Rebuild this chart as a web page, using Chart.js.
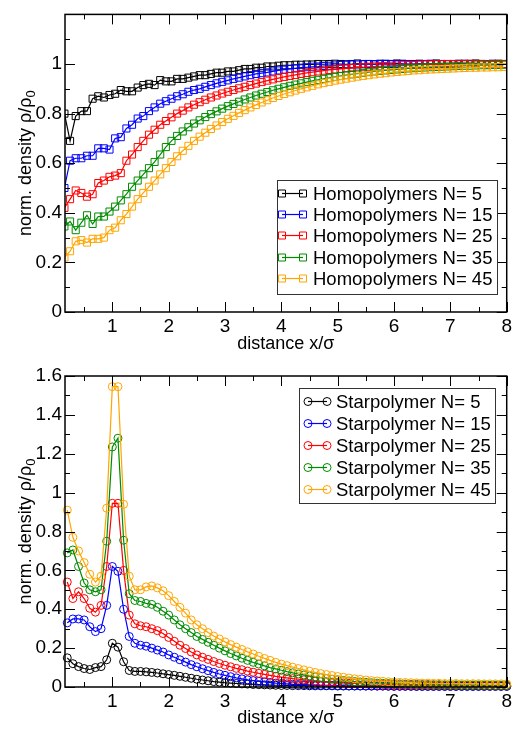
<!DOCTYPE html>
<html>
<head>
<meta charset="utf-8">
<script src="https://cdn.jsdelivr.net/npm/chart.js@4.4.1/dist/chart.umd.min.js"></script>
<style>
  body { margin: 0; background: #fff; }
  #wrap { position: relative; width: 515px; height: 731px; }
  canvas { position: absolute; left: 0; }
  #homoChart { top: 0; }
  #starChart { top: 355px; }
</style>
</head>
<body>
<div id="wrap">
  <canvas id="homoChart" width="515" height="355"></canvas>
  <canvas id="starChart" width="515" height="376"></canvas>
</div>
<script>
// distances (in units of sigma) for the two profile sets
const homoDistance = [
  0.15, 0.25, 0.35, 0.45, 0.55, 0.65, 0.75, 0.85, 0.95, 1.05,
  1.15, 1.25, 1.35, 1.45, 1.55, 1.65, 1.75, 1.85, 1.95, 2.05,
  2.15, 2.25, 2.35, 2.45, 2.55, 2.65, 2.75, 2.85, 2.95, 3.05,
  3.15, 3.25, 3.35, 3.45, 3.55, 3.65, 3.75, 3.85, 3.95, 4.05,
  4.15, 4.25, 4.35, 4.45, 4.55, 4.65, 4.75, 4.85, 4.95, 5.05,
  5.15, 5.25, 5.35, 5.45, 5.55, 5.65, 5.75, 5.85, 5.95, 6.05,
  6.15, 6.25, 6.35, 6.45, 6.55, 6.65, 6.75, 6.85, 6.95, 7.05,
  7.15, 7.25, 7.35, 7.45, 7.55, 7.65, 7.75, 7.85, 7.95
];
const starDistance = [
  0.2, 0.3, 0.4, 0.5, 0.6, 0.7, 0.8, 0.9, 1.0, 1.1,
  1.2, 1.3, 1.4, 1.5, 1.6, 1.7, 1.8, 1.9, 2.0, 2.1,
  2.2, 2.3, 2.4, 2.5, 2.6, 2.7, 2.8, 2.9, 3.0, 3.1,
  3.2, 3.3, 3.4, 3.5, 3.6, 3.7, 3.8, 3.9, 4.0, 4.1,
  4.2, 4.3, 4.4, 4.5, 4.6, 4.7, 4.8, 4.9, 5.0, 5.1,
  5.2, 5.3, 5.4, 5.5, 5.6, 5.7, 5.8, 5.9, 6.0, 6.1,
  6.2, 6.3, 6.4, 6.5, 6.6, 6.7, 6.8, 6.9, 7.0, 7.1,
  7.2, 7.3, 7.4, 7.5, 7.6, 7.7, 7.8, 7.9, 8.0
];

// homopolymer density profiles
const homoN5 = [
  0.80, 0.69, 0.79, 0.81, 0.81, 0.86, 0.87, 0.865, 0.875, 0.88,
  0.895, 0.89, 0.89, 0.905, 0.915, 0.92, 0.915, 0.935, 0.93, 0.93,
  0.94, 0.94, 0.945, 0.95, 0.955, 0.955, 0.96, 0.965, 0.965, 0.97,
  0.97, 0.975, 0.98, 0.98, 0.985, 0.985, 0.99, 0.99, 0.993, 0.995,
  0.995, 0.997, 0.997, 0.998, 0.998, 1.0, 0.999, 1.0, 1.001, 1.0,
  0.999, 1.0, 1.002, 1.0, 1.0, 0.999, 1.001, 1.0, 1.0, 1.002,
  1.0, 0.999, 1.0, 1.001, 1.0, 1.0, 1.002, 1.0, 0.999, 1.0,
  1.001, 1.0, 1.0, 1.002, 1.0, 0.999, 1.0, 1.001, 1.0
];
const homoN15 = [
  0.50, 0.61, 0.62, 0.62, 0.63, 0.63, 0.66, 0.66, 0.655, 0.70,
  0.705, 0.74, 0.755, 0.78, 0.79, 0.81, 0.825, 0.84, 0.85, 0.86,
  0.87, 0.878, 0.888, 0.895, 0.90, 0.908, 0.915, 0.922, 0.928, 0.934,
  0.94, 0.945, 0.95, 0.955, 0.96, 0.963, 0.966, 0.97, 0.974, 0.977,
  0.98, 0.982, 0.985, 0.987, 0.989, 0.99, 0.992, 0.993, 0.994, 0.996,
  0.997, 0.998, 0.998, 0.999, 1.0, 0.999, 1.0, 1.001, 1.0, 1.0,
  1.001, 1.0, 0.999, 1.0, 1.0, 1.001, 1.0, 1.0, 1.0, 0.999,
  1.0, 1.001, 1.0, 1.0, 1.0, 1.0, 1.001, 1.0, 1.0
];
const homoN25 = [
  0.42, 0.455, 0.49, 0.48, 0.465, 0.475, 0.52, 0.53, 0.545, 0.55,
  0.56, 0.61, 0.635, 0.665, 0.69, 0.715, 0.735, 0.755, 0.77, 0.785,
  0.80, 0.812, 0.825, 0.836, 0.846, 0.856, 0.865, 0.873, 0.881, 0.888,
  0.895, 0.902, 0.908, 0.915, 0.921, 0.927, 0.933, 0.938, 0.943, 0.948,
  0.952, 0.956, 0.96, 0.964, 0.967, 0.97, 0.973, 0.976, 0.978, 0.98,
  0.982, 0.984, 0.986, 0.987, 0.989, 0.99, 0.991, 0.992, 0.993, 0.994,
  0.995, 0.996, 0.996, 0.997, 0.998, 0.998, 0.999, 0.999, 1.0, 1.0,
  0.999, 1.0, 1.001, 1.0, 1.0, 0.999, 1.0, 1.0, 1.0
];
const homoN35 = [
  0.345, 0.365, 0.33, 0.36, 0.39, 0.355, 0.385, 0.385, 0.405, 0.425,
  0.45, 0.475, 0.505, 0.53, 0.555, 0.58, 0.605, 0.635, 0.665, 0.69,
  0.71, 0.728, 0.745, 0.76, 0.773, 0.786, 0.798, 0.809, 0.82, 0.83,
  0.839, 0.848, 0.857, 0.865, 0.873, 0.88, 0.887, 0.894, 0.9, 0.906,
  0.912, 0.917, 0.922, 0.927, 0.932, 0.936, 0.94, 0.944, 0.948, 0.952,
  0.955, 0.958, 0.961, 0.964, 0.967, 0.97, 0.972, 0.974, 0.976, 0.978,
  0.98, 0.982, 0.983, 0.985, 0.986, 0.987, 0.988, 0.989, 0.99, 0.991,
  0.992, 0.993, 0.993, 0.994, 0.995, 0.995, 0.996, 0.996, 0.997
];
const homoN45 = [
  0.22, 0.245, 0.285, 0.29, 0.28, 0.295, 0.295, 0.30, 0.33, 0.34,
  0.37, 0.395, 0.425, 0.455, 0.48, 0.505, 0.53, 0.555, 0.58, 0.605,
  0.628, 0.65, 0.67, 0.69, 0.707, 0.723, 0.738, 0.752, 0.766, 0.779,
  0.791, 0.803, 0.814, 0.825, 0.835, 0.845, 0.854, 0.863, 0.871, 0.879,
  0.886, 0.893, 0.9, 0.906, 0.912, 0.918, 0.923, 0.928, 0.933, 0.937,
  0.941, 0.945, 0.949, 0.952, 0.955, 0.958, 0.961, 0.963, 0.966, 0.968,
  0.97, 0.972, 0.974, 0.975, 0.977, 0.978, 0.979, 0.98, 0.981, 0.982,
  0.983, 0.984, 0.985, 0.985, 0.986, 0.986, 0.987, 0.987, 0.988
];

// star polymer density profiles
const starN5 = [
  0.15, 0.12, 0.105, 0.095, 0.09, 0.10, 0.105, 0.14, 0.225, 0.205,
  0.13, 0.085, 0.08, 0.08, 0.078, 0.075, 0.072, 0.068, 0.064, 0.06,
  0.055, 0.05, 0.045, 0.04, 0.036, 0.032, 0.028, 0.025, 0.022, 0.02,
  0.018, 0.016, 0.015, 0.013, 0.012, 0.011, 0.01, 0.009, 0.008, 0.008,
  0.007, 0.007, 0.007, 0.006, 0.006, 0.006, 0.006, 0.006, 0.005, 0.005,
  0.005, 0.005, 0.005, 0.005, 0.005, 0.005, 0.005, 0.004, 0.004, 0.004,
  0.004, 0.004, 0.004, 0.004, 0.004, 0.004, 0.004, 0.004, 0.004, 0.004,
  0.004, 0.004, 0.004, 0.004, 0.004, 0.004, 0.004, 0.004, 0.004
];
const starN15 = [
  0.33, 0.35, 0.35, 0.345, 0.31, 0.285, 0.30, 0.42, 0.62, 0.595,
  0.40, 0.26, 0.225, 0.215, 0.21, 0.20, 0.19, 0.18, 0.165, 0.153,
  0.14, 0.128, 0.115, 0.104, 0.094, 0.084, 0.075, 0.067, 0.06, 0.053,
  0.047, 0.042, 0.037, 0.033, 0.029, 0.026, 0.023, 0.02, 0.018, 0.016,
  0.014, 0.013, 0.012, 0.011, 0.01, 0.009, 0.008, 0.008, 0.007, 0.007,
  0.006, 0.006, 0.006, 0.005, 0.005, 0.005, 0.005, 0.005, 0.004, 0.004,
  0.004, 0.004, 0.003, 0.003, 0.003, 0.003, 0.003, 0.003, 0.003, 0.003,
  0.003, 0.003, 0.003, 0.003, 0.003, 0.003, 0.003, 0.003, 0.003
];
const starN25 = [
  0.54, 0.455, 0.49, 0.455, 0.405, 0.385, 0.42, 0.62, 0.945, 0.945,
  0.60, 0.37, 0.325, 0.315, 0.31, 0.30, 0.29, 0.275, 0.255, 0.235,
  0.215, 0.198, 0.18, 0.165, 0.153, 0.142, 0.131, 0.121, 0.112, 0.104,
  0.096, 0.089, 0.082, 0.076, 0.07, 0.065, 0.06, 0.055, 0.051, 0.047,
  0.043, 0.04, 0.037, 0.034, 0.031, 0.029, 0.027, 0.025, 0.023, 0.021,
  0.019, 0.018, 0.017, 0.016, 0.015, 0.014, 0.013, 0.012, 0.012, 0.011,
  0.011, 0.01, 0.01, 0.01, 0.009, 0.009, 0.009, 0.009, 0.008, 0.008,
  0.008, 0.008, 0.008, 0.008, 0.007, 0.007, 0.007, 0.007, 0.007
];
const starN35 = [
  0.69, 0.705, 0.62, 0.535, 0.50, 0.49, 0.50, 0.75, 1.235, 1.28,
  0.755, 0.48, 0.445, 0.44, 0.43, 0.425, 0.41, 0.39, 0.37, 0.345,
  0.32, 0.30, 0.28, 0.26, 0.245, 0.23, 0.215, 0.20, 0.186, 0.172,
  0.16, 0.148, 0.137, 0.127, 0.118, 0.109, 0.10, 0.093, 0.086, 0.079,
  0.073, 0.067, 0.062, 0.057, 0.052, 0.048, 0.044, 0.04, 0.037, 0.034,
  0.031, 0.028, 0.026, 0.024, 0.022, 0.02, 0.019, 0.018, 0.017, 0.016,
  0.015, 0.014, 0.014, 0.013, 0.013, 0.012, 0.012, 0.011, 0.011, 0.011,
  0.01, 0.01, 0.01, 0.01, 0.01, 0.009, 0.009, 0.009, 0.009
];
const starN45 = [
  0.91, 0.77, 0.70, 0.64, 0.58, 0.54, 0.57, 0.92, 1.545, 1.545,
  0.94, 0.57, 0.50, 0.50, 0.515, 0.52, 0.51, 0.495, 0.47, 0.44,
  0.41, 0.38, 0.345, 0.32, 0.30, 0.28, 0.262, 0.247, 0.232, 0.218,
  0.205, 0.193, 0.181, 0.17, 0.158, 0.147, 0.137, 0.127, 0.118, 0.11,
  0.102, 0.095, 0.088, 0.081, 0.075, 0.069, 0.064, 0.059, 0.054, 0.05,
  0.046, 0.042, 0.039, 0.036, 0.033, 0.031, 0.029, 0.027, 0.025, 0.024,
  0.023, 0.022, 0.021, 0.02, 0.02, 0.019, 0.019, 0.018, 0.018, 0.018,
  0.017, 0.017, 0.017, 0.017, 0.016, 0.016, 0.016, 0.016, 0.016
];

const seriesLabels = ['N= 5', 'N= 15', 'N= 25', 'N= 35', 'N= 45'];
const seriesColors = ['#000000', '#0000ff', '#ff0000', '#008c00', '#ffa500'];

// axis ticks
const xTickValues = [1, 2, 3, 4, 5, 6, 7, 8];
const xMinorTicks = [0.5, 1.5, 2.5, 3.5, 4.5, 5.5, 6.5, 7.5];
const homoYTicks = [0, 0.2, 0.4, 0.6, 0.8, 1];
const homoYLabels = ['0', '0.2', '0.4', '0.6', '0.8', '1'];
const homoYMinor = [0.1, 0.3, 0.5, 0.7, 0.9, 1.1];
const starYTicks = [0, 0.2, 0.4, 0.6, 0.8, 1, 1.2, 1.4, 1.6];
const starYLabels = ['0', '0.2', '0.4', '0.6', '0.8', '1', '1.2', '1.4', '1.6'];
const starYMinor = [0.1, 0.3, 0.5, 0.7, 0.9, 1.1, 1.3, 1.5];

const FONT = '"Liberation Sans", Arial, Helvetica, sans-serif';

// frame, inward ticks on all four sides and axis titles
const axisFrame = {
  id: 'axisFrame',
  afterDraw(chart, args, o) {
    const ctx = chart.ctx, a = chart.chartArea;
    const xs = chart.scales.x, ys = chart.scales.y;
    ctx.save();
    ctx.strokeStyle = '#000';
    ctx.lineWidth = 1;
    ctx.beginPath();
    const xTick = (v, len) => {
      const px = Math.round(xs.getPixelForValue(v)) + 0.5;
      ctx.moveTo(px, a.bottom); ctx.lineTo(px, a.bottom - len);
      ctx.moveTo(px, a.top); ctx.lineTo(px, a.top + len);
    };
    const yTick = (v, len) => {
      const py = Math.round(ys.getPixelForValue(v)) + 0.5;
      ctx.moveTo(a.left, py); ctx.lineTo(a.left + len, py);
      ctx.moveTo(a.right, py); ctx.lineTo(a.right - len, py);
    };
    o.xMajor.forEach(v => xTick(v, 10));
    o.xMinor.forEach(v => xTick(v, 5));
    o.yMajor.forEach(v => yTick(v, 10));
    o.yMinor.forEach(v => yTick(v, 5));
    ctx.stroke();

    ctx.lineWidth = 1.5;
    ctx.strokeRect(a.left, a.top, a.right - a.left, a.bottom - a.top);

    // x title
    ctx.fillStyle = '#000';
    ctx.font = '18px ' + FONT;
    ctx.textAlign = 'center';
    ctx.textBaseline = 'alphabetic';
    ctx.fillText('distance x/\u03c3', (a.left + a.right) / 2, a.bottom + o.xTitleOffset);

    // y title with subscript
    const main = 'norm. density \u03c1/\u03c1';
    ctx.font = '18px ' + FONT;
    const wMain = ctx.measureText(main).width;
    ctx.font = '13px ' + FONT;
    const wSub = ctx.measureText('0').width;
    ctx.translate(o.yTitleX, (a.top + a.bottom) / 2);
    ctx.rotate(-Math.PI / 2);
    ctx.textAlign = 'left';
    const start = -(wMain + wSub) / 2;
    ctx.font = '18px ' + FONT;
    ctx.fillText(main, start, 0);
    ctx.font = '13px ' + FONT;
    ctx.fillText('0', start + wMain, 4);
    ctx.restore();
  }
};

// boxed legend with a marker at each end of the line sample
const boxLegend = {
  id: 'boxLegend',
  afterDraw(chart, args, o) {
    const ctx = chart.ctx;
    ctx.save();
    ctx.fillStyle = '#fff';
    ctx.fillRect(o.x, o.y, o.w, o.h);
    ctx.strokeStyle = '#333';
    ctx.lineWidth = 1;
    ctx.strokeRect(o.x + 0.5, o.y + 0.5, o.w, o.h);
    ctx.font = '18.5px ' + FONT;
    ctx.textAlign = 'left';
    ctx.textBaseline = 'middle';
    chart.data.datasets.forEach((ds, i) => {
      const y = Math.round(o.rowY + i * o.rowStep) + 0.5;
      ctx.strokeStyle = ds.borderColor;
      ctx.lineWidth = 1.2;
      ctx.beginPath();
      ctx.moveTo(o.symX1, y);
      ctx.lineTo(o.symX2, y);
      ctx.stroke();
      ctx.lineWidth = 1;
      [o.symX1, o.symX2].forEach(sx => {
        ctx.beginPath();
        if (ds.pointStyle === 'rect') {
          ctx.rect(sx - 3.5, y - 3.5, 7, 7);
        } else {
          ctx.arc(sx, y, 4, 0, Math.PI * 2);
        }
        ctx.stroke();
      });
      ctx.fillStyle = '#000';
      ctx.fillText(ds.label, o.textX, y + 1);
    });
    ctx.restore();
  }
};

function makeDatasets(prefix, xs, lists, style, radius, clip) {
  return lists.map((vals, i) => ({
    label: prefix + ' ' + seriesLabels[i],
    data: xs.map((x, j) => ({ x: x, y: vals[j] })),
    borderColor: seriesColors[i],
    borderWidth: 1.2,
    pointStyle: style,
    pointRadius: radius,
    pointBorderWidth: 1,
    pointBackgroundColor: 'rgba(0,0,0,0)',
    pointBorderColor: seriesColors[i],
    tension: 0,
    fill: false,
    clip: clip,
    order: lists.length - i
  }));
}

function makeOptions(cfg) {
  return {
    responsive: false,
    animation: false,
    events: [],
    layout: { padding: cfg.padding },
    plugins: {
      legend: { display: false },
      tooltip: { enabled: false },
      axisFrame: cfg.frame,
      boxLegend: cfg.legend
    },
    scales: {
      x: {
        type: 'linear',
        min: 0.16,
        max: 8,
        afterBuildTicks: s => { s.ticks = xTickValues.map(v => ({ value: v })); },
        afterFit: s => { s.height = cfg.xAxisHeight; },
        grid: { display: false, drawTicks: false },
        border: { display: false },
        ticks: {
          font: { family: FONT, size: 19 }, color: '#000', padding: 3,
          maxRotation: 0, autoSkip: false,
          callback: v => String(v)
        }
      },
      y: {
        type: 'linear',
        min: 0,
        max: cfg.yMax,
        afterBuildTicks: s => { s.ticks = cfg.yTicks.map(v => ({ value: v })); },
        afterFit: s => { s.width = 65; },
        grid: { display: false, drawTicks: false },
        border: { display: false },
        ticks: {
          font: { family: FONT, size: 19 }, color: '#000', padding: 3,
          autoSkip: false,
          callback: (v, i) => cfg.yLabels[i]
        }
      }
    }
  };
}

new Chart(document.getElementById('homoChart'), {
  type: 'line',
  data: {
    datasets: makeDatasets('Homopolymers', homoDistance,
      [homoN5, homoN15, homoN25, homoN35, homoN45], 'rect', 5, 0)
  },
  options: makeOptions({
    padding: { left: 0, right: 6, top: 4, bottom: 0 },
    xAxisHeight: 43,
    yMax: 1.2,
    yTicks: homoYTicks,
    yLabels: homoYLabels,
    frame: { xMajor: xTickValues, xMinor: xMinorTicks, yMajor: homoYTicks, yMinor: homoYMinor,
             xTitleOffset: 37, yTitleX: 31 },
    legend: { x: 277, y: 180, w: 220, h: 114, rowY: 193, rowStep: 21.2,
              symX1: 282, symX2: 303, textX: 313 }
  }),
  plugins: [axisFrame, boxLegend]
});

new Chart(document.getElementById('starChart'), {
  type: 'line',
  data: {
    datasets: makeDatasets('Starpolymer', starDistance,
      [starN5, starN15, starN25, starN35, starN45], 'circle', 4, false)
  },
  options: makeOptions({
    padding: { left: 0, right: 6, top: 21, bottom: 0 },
    xAxisHeight: 44,
    yMax: 1.6,
    yTicks: starYTicks,
    yLabels: starYLabels,
    frame: { xMajor: xTickValues, xMinor: xMinorTicks, yMajor: starYTicks, yMinor: starYMinor,
             xTitleOffset: 36, yTitleX: 31 },
    legend: { x: 299, y: 33, w: 196, h: 115, rowY: 45.7, rowStep: 22,
              symX1: 308, symX2: 327, textX: 336 }
  }),
  plugins: [axisFrame, boxLegend]
});
</script>
</body>
</html>
